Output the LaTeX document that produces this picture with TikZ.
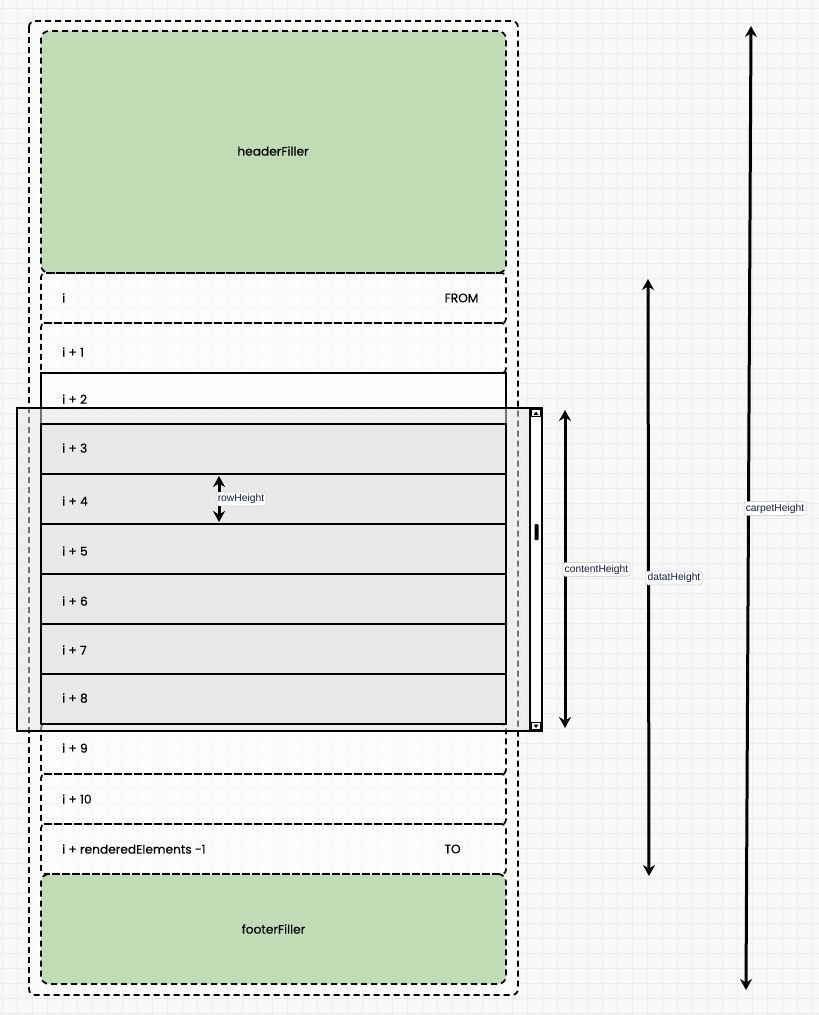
\documentclass[tikz,border=0pt]{standalone}
\usepackage{fontspec}
\setmainfont{Poppins}[FakeBold=0.4]
\newfontfamily\labelfont{Liberation Sans}
\usetikzlibrary{arrows.meta}
\definecolor{fillgreen}{RGB}{192,220,180}
\definecolor{bggray}{RGB}{248,248,248}
\definecolor{gridcol}{RGB}{236,236,236}
\definecolor{rowgray}{RGB}{232,232,232}
\definecolor{labelink}{RGB}{20,30,60}
\tikzset{
  gridline/.style={draw=gridcol, line width=1pt},
  dashbox/.style={draw=black, line width=1.7pt, dash pattern=on 6pt off 4pt, rounded corners=4pt},
  greenbox/.style={dashbox, fill=fillgreen, rounded corners=8pt, inner sep=0pt},
  rowbox/.style={dashbox, inner sep=0pt, minimum width=465pt, minimum height=50pt},
  solidrow/.style={draw=black, line width=1.5pt, fill=rowgray, inner sep=0pt, minimum width=465pt, minimum height=50pt},
  rowtxt/.style={anchor=west, inner sep=0pt, font=\fontsize{12.2}{14}\selectfont},
  bigtxt/.style={inner sep=0pt, font=\fontsize{12.2}{14}\selectfont},
  dim/.style={line width=3pt, {Stealth[length=11pt,width=12pt]}-{Stealth[length=11pt,width=12pt]}},
  dimlabel/.style={fill=white, draw=gray!45, line width=0.5pt, rounded corners=2.5pt, inner xsep=1.8pt, inner ysep=2pt, text=labelink, font=\labelfont\fontsize{10.3}{11}\selectfont}
}
\begin{document}
\begin{tikzpicture}[x=1pt,y=-1pt]
\useasboundingbox (0,0) rectangle (819,1015);
\fill[bggray] (0,0) rectangle (819,1015);
\foreach \x in {2,17,...,812} \draw[gridline] (\x,0) -- (\x,1015);
\foreach \y in {8,23,...,1013} \draw[gridline] (0,\y) -- (819,\y);

% outer carpet
\draw[dashbox, rounded corners=6pt, fill=white, fill opacity=0.6] (29,21) rectangle (518,995);

% fillers
\node[greenbox, minimum width=465pt, minimum height=242pt] (header) at (273.5,152) {};
\node[bigtxt] (headertxt) at (273,151) {headerFiller};
\node[greenbox, minimum width=465pt, minimum height=110pt] (footer) at (273.5,929) {};
\node[bigtxt] (footertxt) at (273.5,929) {footerFiller};

% dashed rows
\node[rowbox] (r0) at (273.5,298) {};
\node[rowtxt] (t0) at (62,298) {i};
\node[bigtxt] (from) at (461.5,298) {FROM};
\node[rowbox] (r1) at (273.5,348) {};
\node[rowtxt] (t1) at (62,352) {i + 1};
\node[rowbox] (r9) at (273.5,749) {};
\node[rowtxt] (t9) at (62,748) {i + 9};
\node[rowbox] (r10) at (273.5,799) {};
\node[rowtxt] (t10) at (62,799) {i + 10};
\node[rowbox] (rl) at (273.5,849) {};
\node[rowtxt] (tl) at (62,849) {i + renderedElements -1};
\node[bigtxt] (to) at (452.5,849) {TO};

% table (solid)
\draw[line width=1.5pt, fill=white, fill opacity=0.5] (41,373) rectangle (506,724);
\node[rowtxt] (t2) at (62,399) {i + 2};

% viewport
\draw[line width=1.5pt, fill=gray!20, fill opacity=0.5] (17,408) rectangle (530,731);

% visible rows
\node[solidrow] (r3) at (273.5,449) {};
\node[rowtxt] (t3) at (62,448) {i + 3};
\node[solidrow] (r4) at (273.5,499) {};
\node[rowtxt] (t4) at (62,501) {i + 4};
\node[solidrow] (r5) at (273.5,549) {};
\node[rowtxt] (t5) at (62,551) {i + 5};
\node[solidrow] (r6) at (273.5,599) {};
\node[rowtxt] (t6) at (62,601) {i + 6};
\node[solidrow] (r7) at (273.5,649) {};
\node[rowtxt] (t7) at (62,650) {i + 7};
\node[solidrow] (r8) at (273.5,699) {};
\node[rowtxt] (t8) at (62,698) {i + 8};

% scrollbar
\draw[line width=1.2pt, fill=white] (530,408) rectangle (542,731);
\draw[line width=0.6pt] (531.5,409.5) rectangle (540.5,416.5);
\fill (533.5,415) -- (536,411.5) -- (538.5,415) -- cycle;
\draw[line width=0.6pt] (531.5,722.5) rectangle (540.5,729.5);
\fill (533.5,724.5) -- (536,728) -- (538.5,724.5) -- cycle;
\fill[rounded corners=1pt] (534.5,524) rectangle (538.5,540);

% dimensions
\coordinate (rhT) at (219,476);
\coordinate (rhB) at (219,522);
\draw[dim] (rhT) -- (rhB);
\node[dimlabel] (rh) at (241,499) {rowHeight};

\coordinate (chT) at (565,410);
\coordinate (chB) at (565,728);
\draw[dim] (chT) -- (chB);
\node[dimlabel] (ch) at (596.5,569.5) {contentHeight};

\coordinate (dhT) at (648,279);
\coordinate (dhB) at (649,876);
\draw[dim] (dhT) -- (dhB);
\node[dimlabel] (dh) at (674,578) {datatHeight};

\coordinate (cpT) at (751,26);
\coordinate (cpB) at (746,990);
\draw[dim] (cpT) -- (cpB);
\node[dimlabel] (cp) at (775,508.5) {carpetHeight};
\end{tikzpicture}
\end{document}
